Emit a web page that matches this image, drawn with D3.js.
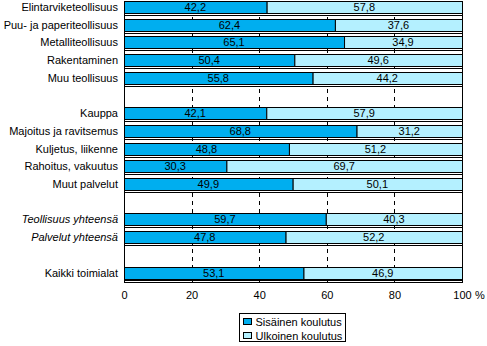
<!DOCTYPE html>
<html>
<head>
<meta charset="utf-8">
<script src="https://cdn.jsdelivr.net/npm/d3@7"></script>
<style>
  body { margin: 0; background: #fff; }
  svg text { font-family: Arial, "Liberation Sans", sans-serif; font-size: 11px; fill: #000; }
</style>
</head>
<body>
<script>
// rows, top to bottom; "" = empty spacer row
const categories = ["Elintarviketeollisuus", "Puu- ja paperiteollisuus", "Metalliteollisuus", "Rakentaminen", "Muu teollisuus", "",
    "Kauppa", "Majoitus ja ravitsemus", "Kuljetus, liikenne", "Rahoitus, vakuutus", "Muut palvelut", "",
    "Teollisuus yhteensä", "Palvelut yhteensä", "", "Kaikki toimialat"];
const italicRows = ["Teollisuus yhteensä", "Palvelut yhteensä"];
const sisainen = [42.2, 62.4, 65.1, 50.4, 55.8, null, 42.1, 68.8, 48.8, 30.3, 49.9, null, 59.7, 47.8, null, 53.1];
const ulkoinen = [57.8, 37.6, 34.9, 49.6, 44.2, null, 57.9, 31.2, 51.2, 69.7, 50.1, null, 40.3, 52.2, null, 46.9];
const seriesNames = ["Sisäinen koulutus", "Ulkoinen koulutus"];
const colors = ["#00aeef", "#b4f0ff"];
const xTicks = [0, 20, 40, 60, 80, 100];

const width = 487, height = 346;
const plotLeft = 124, plotRight = 462, plotTop = 1, plotBottom = 282;

const svg = d3.select("body").append("svg")
    .attr("width", width)
    .attr("height", height);

const x = d3.scaleLinear().domain([0, 100]).range([plotLeft, plotRight]);
const y = d3.scaleBand()
    .domain(d3.range(categories.length))
    .range([plotTop, plotBottom])
    .paddingInner(0.33)
    .paddingOuter(0.1)
    .align(0);

// dashed grid
svg.append("g")
    .selectAll("line")
    .data(xTicks.filter(d => d > 0 && d < 100))
    .join("line")
    .attr("x1", d => Math.round(x(d)) + 0.5)
    .attr("x2", d => Math.round(x(d)) + 0.5)
    .attr("y1", plotTop)
    .attr("y2", plotBottom)
    .attr("stroke", "#000")
    .attr("stroke-dasharray", "4,4");

const rows = categories.map((c, i) => ({ i, c, a: sisainen[i], b: ulkoinen[i] }))
    .filter(d => d.a !== null);

const fmt = v => v.toFixed(1).replace(".", ",");
const rowG = svg.append("g").selectAll("g").data(rows).join("g");

// line just under each bar
rowG.append("line")
    .attr("x1", plotLeft)
    .attr("x2", plotRight)
    .attr("y1", d => Math.round(y(d.i) + y.bandwidth()) + 2.5)
    .attr("y2", d => Math.round(y(d.i) + y.bandwidth()) + 2.5)
    .attr("stroke", "#000");

rowG.append("rect")
    .attr("x", x(0) + 0.5)
    .attr("y", d => Math.round(y(d.i)) + 0.5)
    .attr("width", d => x(d.a) - x(0))
    .attr("height", Math.round(y.bandwidth()))
    .attr("fill", colors[0])
    .attr("stroke", "#000");

rowG.append("rect")
    .attr("x", d => x(d.a) + 0.5)
    .attr("y", d => Math.round(y(d.i)) + 0.5)
    .attr("width", d => x(d.a + d.b) - x(d.a))
    .attr("height", Math.round(y.bandwidth()))
    .attr("fill", colors[1])
    .attr("stroke", "#000");

rowG.append("text")
    .attr("x", d => x(d.a / 2))
    .attr("y", d => y(d.i) + y.bandwidth() / 2 + 4)
    .attr("text-anchor", "middle")
    .text(d => fmt(d.a));

rowG.append("text")
    .attr("x", d => x(d.a + d.b / 2))
    .attr("y", d => y(d.i) + y.bandwidth() / 2 + 4)
    .attr("text-anchor", "middle")
    .text(d => fmt(d.b));

// category labels
svg.append("g").selectAll("text")
    .data(rows)
    .join("text")
    .attr("x", plotLeft - 6)
    .attr("y", d => y(d.i) + y.bandwidth() / 2 + 4)
    .attr("text-anchor", "end")
    .style("font-style", d => italicRows.includes(d.c) ? "italic" : "normal")
    .text(d => d.c);

// frame
svg.append("rect")
    .attr("x", plotLeft + 0.5)
    .attr("y", plotTop + 0.5)
    .attr("width", plotRight - plotLeft)
    .attr("height", plotBottom - plotTop)
    .attr("fill", "none")
    .attr("stroke", "#000");

// x axis labels
const xAxis = d3.axisBottom(x).tickValues(xTicks).tickSize(0).tickPadding(9);
const ax = svg.append("g")
    .attr("transform", `translate(0,${plotBottom})`)
    .call(xAxis);
ax.select(".domain").remove();
ax.selectAll("text").style("font-size", "11px").style("font-family", "Arial, 'Liberation Sans', sans-serif");
svg.append("text")
    .attr("x", x(100) + 13)
    .attr("y", 299)
    .text("%");

// legend
const lg = svg.append("g").attr("transform", "translate(239.5,313.5)");
lg.append("rect")
    .attr("width", 106)
    .attr("height", 28)
    .attr("fill", "#fff")
    .attr("stroke", "#000");
const li = lg.selectAll("g.item").data(seriesNames).join("g")
    .attr("class", "item")
    .attr("transform", (d, i) => `translate(0,${i * 14})`);
li.append("rect")
    .attr("x", 4)
    .attr("y", 5)
    .attr("width", 8)
    .attr("height", 6)
    .attr("fill", (d, i) => colors[i])
    .attr("stroke", "#000");
li.append("text")
    .attr("x", 16)
    .attr("y", 12)
    .text(d => d);
</script>
</body>
</html>
